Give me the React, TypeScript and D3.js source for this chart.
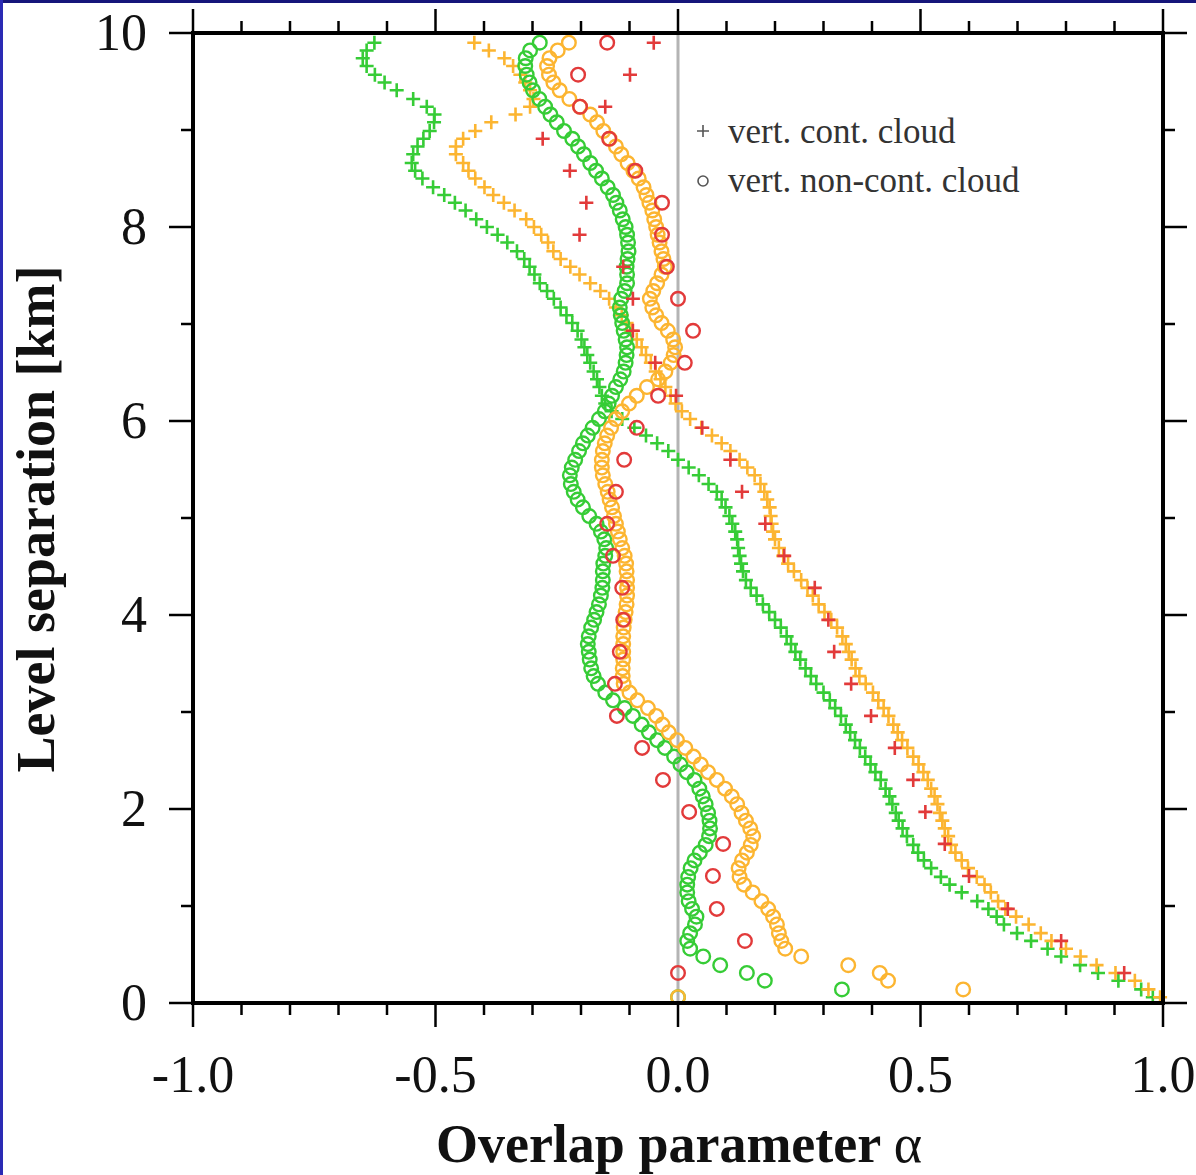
import React from "react";
import * as d3 from "d3";

// Dense level separations [km] (shared by green and orange series)
const LEVELS = [
  0.06, 0.14, 0.23, 0.31, 0.39, 0.48, 0.56, 0.64, 0.72, 0.81,
  0.89, 0.97, 1.05, 1.14, 1.22, 1.30, 1.39, 1.47, 1.55, 1.63,
  1.72, 1.80, 1.88, 1.96, 2.05, 2.13, 2.21, 2.30, 2.38, 2.46,
  2.54, 2.63, 2.71, 2.79, 2.87, 2.96, 3.04, 3.12, 3.20, 3.29,
  3.37, 3.45, 3.54, 3.62, 3.70, 3.78, 3.87, 3.95, 4.03, 4.11,
  4.20, 4.28, 4.36, 4.45, 4.53, 4.61, 4.69, 4.78, 4.86, 4.94,
  5.02, 5.11, 5.19, 5.27, 5.35, 5.44, 5.52, 5.60, 5.69, 5.77,
  5.85, 5.93, 6.02, 6.10, 6.18, 6.26, 6.35, 6.43, 6.51, 6.60,
  6.68, 6.76, 6.84, 6.93, 7.01, 7.09, 7.17, 7.26, 7.34, 7.42,
  7.51, 7.59, 7.67, 7.75, 7.84, 7.92, 8.00, 8.08, 8.17, 8.25,
  8.33, 8.41, 8.50, 8.58, 8.66, 8.75, 8.83, 8.91, 8.99, 9.08,
  9.16, 9.24, 9.32, 9.41, 9.49, 9.57, 9.66, 9.74, 9.82, 9.90,
];

const GREEN_CONT = [
  0.979, 0.955, 0.908, 0.866, 0.829, 0.79, 0.762, 0.728, 0.699, 0.672,
  0.657, 0.64, 0.617, 0.585, 0.56, 0.542, 0.522, 0.507, 0.495, 0.485,
  0.472, 0.463, 0.455, 0.449, 0.442, 0.436, 0.428, 0.418, 0.407, 0.397,
  0.386, 0.375, 0.365, 0.355, 0.346, 0.336, 0.324, 0.313, 0.30, 0.285,
  0.274, 0.263, 0.252, 0.242, 0.233, 0.224, 0.212, 0.2, 0.188, 0.175,
  0.162, 0.15, 0.14, 0.134, 0.13, 0.127, 0.124, 0.122, 0.118, 0.112,
  0.106, 0.098, 0.09, 0.08, 0.063, 0.043, 0.022, 0.0, -0.02, -0.043,
  -0.066, -0.09, -0.115, -0.137, -0.15, -0.157, -0.162, -0.167, -0.174, -0.181,
  -0.187, -0.193, -0.199, -0.207, -0.218, -0.23, -0.242, -0.256, -0.27, -0.285,
  -0.296, -0.306, -0.317, -0.332, -0.352, -0.372, -0.394, -0.416, -0.438, -0.46,
  -0.482, -0.505, -0.527, -0.542, -0.549, -0.546, -0.537, -0.525, -0.512, -0.503,
  -0.502, -0.518, -0.546, -0.58, -0.605, -0.625, -0.642, -0.65, -0.642, -0.626,
];

const ORANGE_CONT = [
  0.994, 0.97, 0.942, 0.902, 0.863, 0.83, 0.8, 0.77, 0.748, 0.723,
  0.697, 0.675, 0.66, 0.645, 0.632, 0.616, 0.598, 0.585, 0.572, 0.563,
  0.557, 0.55, 0.545, 0.54, 0.535, 0.529, 0.522, 0.515, 0.506, 0.496,
  0.485, 0.473, 0.462, 0.453, 0.444, 0.434, 0.424, 0.413, 0.402, 0.387,
  0.374, 0.366, 0.358, 0.352, 0.346, 0.339, 0.328, 0.316, 0.302, 0.29,
  0.278, 0.267, 0.254, 0.239, 0.227, 0.217, 0.208, 0.2, 0.196, 0.193,
  0.191, 0.189, 0.184, 0.178, 0.17, 0.158, 0.143, 0.127, 0.108, 0.09,
  0.07, 0.048, 0.025, 0.008, -0.005, -0.015, -0.026, -0.036, -0.046, -0.056,
  -0.066, -0.075, -0.085, -0.096, -0.106, -0.116, -0.128, -0.142, -0.16, -0.181,
  -0.203, -0.222, -0.242, -0.257, -0.268, -0.282, -0.297, -0.313, -0.337, -0.359,
  -0.381, -0.399, -0.418, -0.432, -0.443, -0.458, -0.458, -0.443, -0.418, -0.385,
  -0.335, -0.305, -0.298, -0.305, -0.315, -0.325, -0.34, -0.358, -0.39, -0.42,
];

const GREEN_NONCONT = [
  0.0, 0.338, 0.179, 0.142, 0.087, 0.052, 0.025, 0.019, 0.025, 0.035,
  0.038, 0.029, 0.022, 0.019, 0.019, 0.021, 0.026, 0.034, 0.045, 0.057,
  0.064, 0.066, 0.065, 0.062, 0.057, 0.051, 0.044, 0.034, 0.018, 0.005,
  -0.008, -0.027, -0.043, -0.06, -0.075, -0.093, -0.11, -0.134, -0.15, -0.165,
  -0.174, -0.179, -0.182, -0.184, -0.186, -0.184, -0.179, -0.173, -0.168, -0.163,
  -0.159, -0.156, -0.155, -0.155, -0.154, -0.15, -0.148, -0.152, -0.159, -0.168,
  -0.183, -0.196, -0.207, -0.215, -0.221, -0.223, -0.219, -0.212, -0.204, -0.196,
  -0.186, -0.176, -0.163, -0.151, -0.143, -0.136, -0.128, -0.119, -0.112, -0.108,
  -0.106, -0.105, -0.108, -0.112, -0.115, -0.118, -0.12, -0.117, -0.11, -0.105,
  -0.105, -0.106, -0.104, -0.102, -0.103, -0.105, -0.108, -0.114, -0.12, -0.127,
  -0.134, -0.145, -0.157, -0.169, -0.181, -0.194, -0.206, -0.218, -0.235, -0.25,
  -0.263, -0.274, -0.286, -0.299, -0.306, -0.312, -0.315, -0.314, -0.305, -0.285,
];

const ORANGE_NONCONT = [
  0.0, 0.588, 0.433, 0.416, 0.351, 0.254, 0.221, 0.213, 0.208, 0.204,
  0.196, 0.186, 0.172, 0.154, 0.136, 0.127, 0.125, 0.132, 0.142, 0.15,
  0.155, 0.149, 0.14, 0.131, 0.122, 0.111, 0.097, 0.08, 0.062, 0.047,
  0.032, 0.015, -0.002, -0.019, -0.032, -0.045, -0.062, -0.084, -0.1, -0.112,
  -0.114, -0.114, -0.113, -0.113, -0.113, -0.113, -0.112, -0.11, -0.108, -0.106,
  -0.105, -0.105, -0.105, -0.106, -0.107, -0.11, -0.115, -0.12, -0.124, -0.128,
  -0.132, -0.136, -0.141, -0.145, -0.15, -0.155, -0.157, -0.157, -0.155, -0.151,
  -0.146, -0.138, -0.128, -0.115, -0.101, -0.085, -0.064, -0.041, -0.026, -0.015,
  -0.009, -0.006, -0.01, -0.021, -0.034, -0.045, -0.053, -0.058, -0.051, -0.043,
  -0.034, -0.027, -0.03, -0.034, -0.038, -0.042, -0.045, -0.049, -0.053, -0.059,
  -0.065, -0.071, -0.081, -0.092, -0.104, -0.117, -0.128, -0.141, -0.154, -0.167,
  -0.181, -0.202, -0.224, -0.244, -0.257, -0.266, -0.27, -0.265, -0.248, -0.225,
];

// Sparse levels (red series)
const RED_LEVELS = [
  0.31, 0.64, 0.97, 1.31, 1.64, 1.97, 2.30, 2.63, 2.96, 3.29,
  3.62, 3.95, 4.28, 4.61, 4.94, 5.27, 5.60, 5.93, 6.26, 6.60,
  6.93, 7.26, 7.59, 7.92, 8.25, 8.58, 8.91, 9.24, 9.57, 9.90,
];

const RED_CONT = [
  0.92, 0.79, 0.68, 0.60, 0.55, 0.51, 0.485, 0.447, 0.398, 0.357,
  0.322, 0.31, 0.282, 0.219, 0.18, 0.132, 0.108, 0.05, -0.004, -0.047,
  -0.093, -0.093, -0.113, -0.203, -0.189, -0.223, -0.279, -0.15, -0.099, -0.05,
];

const RED_NONCONT = [
  0.0, 0.138, 0.08, 0.072, 0.093, 0.023, -0.031, -0.074, -0.126, -0.13,
  -0.12, -0.113, -0.115, -0.134, -0.146, -0.128, -0.111, -0.085, -0.041, 0.014,
  0.031, 0.0, -0.023, -0.033, -0.033, -0.088, -0.142, -0.202, -0.206, -0.146,
];

const X_TICK_VALUES = [-1, -0.5, 0, 0.5, 1];
const X_TICK_LABELS = ["-1.0", "-0.5", "0.0", "0.5", "1.0"];
const Y_TICK_VALUES = [0, 2, 4, 6, 8, 10];
const Y_TICK_LABELS = ["0", "2", "4", "6", "8", "10"];
const LEGEND_LABELS = ["vert. cont. cloud", "vert. non-cont. cloud"];
const X_TITLE = "Overlap parameter ";
const Y_TITLE = "Level separation [km]";

const GREEN = "#36cc36";
const ORANGE = "#fcb531";
const RED = "#e23a3a";

const W = 1196;
const H = 1175;
const L = 193, R = 1163, T = 33, B = 1003;
const SERIF = "'Liberation Serif', 'Times New Roman', serif";

const x = d3.scaleLinear().domain([-1, 1]).range([L, R]);
const y = d3.scaleLinear().domain([0, 10]).range([B, T]);

const PLUS = "M-7,0H7M0,-7V7";

function Plus({ xs, ys, color }: { xs: number[]; ys: number[]; color: string }) {
  return (
    <g stroke={color} strokeWidth={2.6} fill="none">
      {xs.map((v, i) => (
        <path key={i} d={PLUS} transform={`translate(${x(v)},${y(ys[i])})`} />
      ))}
    </g>
  );
}

function Circles({ xs, ys, color }: { xs: number[]; ys: number[]; color: string }) {
  return (
    <g stroke={color} strokeWidth={2.4} fill="none">
      {xs.map((v, i) => (
        <circle key={i} cx={x(v)} cy={y(ys[i])} r={6.8} />
      ))}
    </g>
  );
}

export default function App() {
  const minorX = d3.range(-10, 11).map((d) => d / 10);
  const minorY = d3.range(0, 11);
  return (
    <svg
      width={W}
      height={H}
      style={{ position: "absolute", left: 0, top: 0, display: "block", background: "#fff" }}
    >
      <rect x={0} y={0} width={W} height={H} fill="#ffffff" />
      <rect x={0} y={0} width={W} height={3} fill="#16167a" />
      <rect x={0} y={0} width={3} height={H} fill="#2a2ab4" />

      {/* zero line */}
      <line x1={x(0)} x2={x(0)} y1={T} y2={B} stroke="#b4b4b4" strokeWidth={3} />

      {/* data */}
      <Plus xs={GREEN_CONT} ys={LEVELS} color={GREEN} />
      <Plus xs={ORANGE_CONT} ys={LEVELS} color={ORANGE} />
      <Circles xs={GREEN_NONCONT} ys={LEVELS} color={GREEN} />
      <Circles xs={ORANGE_NONCONT} ys={LEVELS} color={ORANGE} />
      <Plus xs={RED_CONT} ys={RED_LEVELS} color={RED} />
      <Circles xs={RED_NONCONT} ys={RED_LEVELS} color={RED} />

      {/* ticks */}
      <g stroke="#000" strokeWidth={2.5}>
        {minorX.map((v, i) => {
          const major = X_TICK_VALUES.some((m) => Math.abs(m - v) < 1e-9);
          const len = major ? 24 : 12;
          return (
            <g key={"x" + i}>
              <line x1={x(v)} x2={x(v)} y1={B} y2={B + len} />
              <line x1={x(v)} x2={x(v)} y1={T} y2={T - len} />
            </g>
          );
        })}
        {minorY.map((v, i) => {
          const major = v % 2 === 0;
          const len = major ? 24 : 12;
          return (
            <g key={"y" + i}>
              <line x1={L} x2={L - len} y1={y(v)} y2={y(v)} />
              <line x1={R} x2={R + len} y1={y(v)} y2={y(v)} />
            </g>
          );
        })}
      </g>

      {/* frame */}
      <rect x={L} y={T} width={R - L} height={B - T} fill="none" stroke="#000" strokeWidth={4} />

      {/* tick labels */}
      <g fontFamily={SERIF} fontSize={52} fill="#111">
        {X_TICK_VALUES.map((v, i) => (
          <text key={i} x={x(v)} y={1092} textAnchor="middle">
            {X_TICK_LABELS[i]}
          </text>
        ))}
        {Y_TICK_VALUES.map((v, i) => (
          <text key={i} x={147} y={y(v) + 17} textAnchor="end">
            {Y_TICK_LABELS[i]}
          </text>
        ))}
      </g>

      {/* axis titles */}
      <text
        x={679}
        y={1162}
        textAnchor="middle"
        fontFamily={SERIF}
        fontSize={54}
        fontWeight="bold"
        fill="#111"
      >
        {X_TITLE}
        <tspan fontWeight="normal">α</tspan>
      </text>
      <text
        transform={`translate(54,519) rotate(-90)`}
        textAnchor="middle"
        fontFamily={SERIF}
        fontSize={54}
        fontWeight="bold"
        fill="#111"
      >
        {Y_TITLE}
      </text>

      {/* legend */}
      <g>
        <path d="M-6,0H6M0,-6V6" transform="translate(703,131)" stroke="#555" strokeWidth={1.6} fill="none" />
        <circle cx={703} cy={181} r={5} stroke="#555" strokeWidth={1.6} fill="none" />
        <g fontFamily={SERIF} fontSize={35} fill="#333">
          <text x={728} y={143}>{LEGEND_LABELS[0]}</text>
          <text x={728} y={192}>{LEGEND_LABELS[1]}</text>
        </g>
      </g>
    </svg>
  );
}
